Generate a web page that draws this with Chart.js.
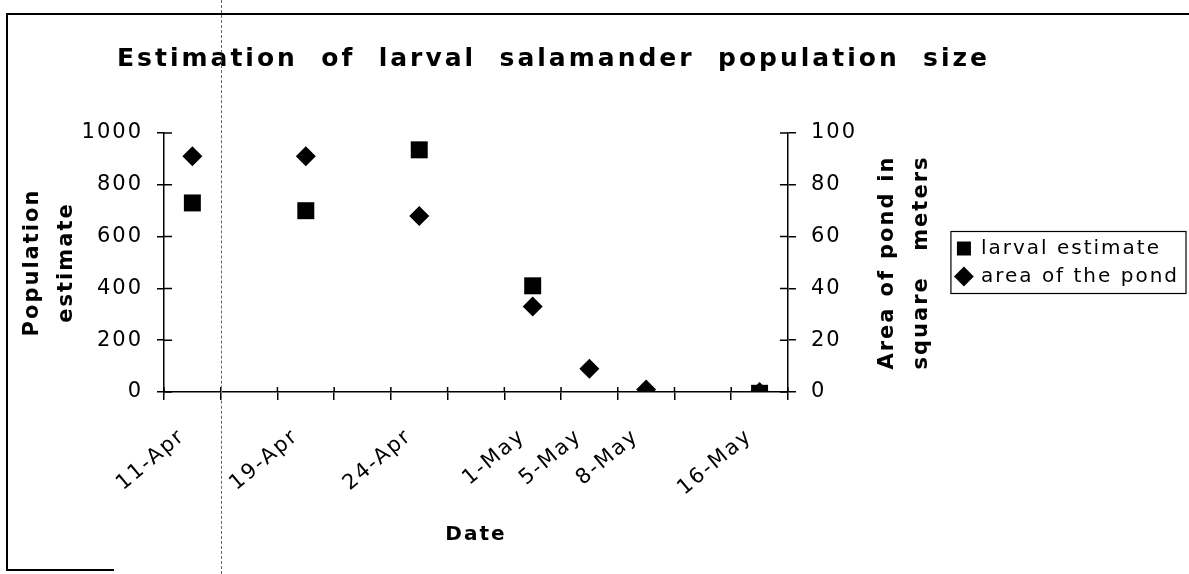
<!DOCTYPE html>
<html>
<head>
<meta charset="utf-8">
<script src="https://cdn.jsdelivr.net/npm/chart.js@4.4.1/dist/chart.umd.min.js"></script>
<style>
  body { margin: 0; background: #fff; }
  #wrap { position: relative; width: 1189px; height: 574px; overflow: hidden; }
  #frame { position: absolute; left: 6px; top: 13px; width: 1190px; height: 556px; border-top: 2px solid #000; border-left: 2px solid #000; pointer-events: none; }
  #foot { position: absolute; left: 6px; top: 569px; width: 108px; border-top: 2px solid #000; }
  #scan { position: absolute; left: 221px; top: 0; height: 574px; border-left: 1px dashed #666; pointer-events: none; }
</style>
</head>
<body>
<div id="wrap">
  <canvas id="salamander" width="1189" height="574"></canvas>
  <div id="frame"></div>
  <div id="foot"></div>
  <div id="scan"></div>
</div>
<script>
// データ
const dateLabels = ['11-Apr', '', '19-Apr', '', '24-Apr', '', '1-May', '5-May', '8-May', '', '16-May'];
const larvalEstimate = [730, null, 700, null, 935, null, 410, null, null, null, -5];
const pondArea = [91, null, 91, null, 68, null, 33, 9, 1, null, 0];
const popTicks = [0, 200, 400, 600, 800, 1000];
const areaTicks = [0, 20, 40, 60, 80, 100];

const chartTitle = 'Estimation of larval salamander population size';
const leftTitle = ['Population', 'estimate'];
const rightTitle = ['Area of pond in', 'square meters'];
const xTitle = 'Date';

const SPACING = '2px'; // スキャン画像の文字間隔に合わせる

// 単語を両端揃えで描く
function spread(ctx, text, x0, x1, y) {
    const words = text.split(' ');
    const widths = words.map(w => ctx.measureText(w).width);
    const total = widths.reduce((a, b) => a + b, 0);
    const gap = words.length > 1 ? (x1 - x0 - total) / (words.length - 1) : 0;
    let cx = x0;
    ctx.textAlign = 'left';
    words.forEach((w, i) => {
        ctx.fillText(w, cx, y);
        cx += widths[i] + gap;
    });
}

const extras = {
    id: 'extras',
    beforeLayout(chart) { chart.ctx.letterSpacing = SPACING; },
    beforeDraw(chart) { chart.ctx.letterSpacing = SPACING; },
    afterDraw(chart) {
        const ctx = chart.ctx;
        const {x, y, y1} = chart.scales;
        ctx.save();
        ctx.strokeStyle = '#000';
        ctx.lineWidth = 1.5;

        // 目盛り線の内側部分
        ctx.beginPath();
        const n = x.ticks.length;
        for (let i = 0; i <= n; i++) {
            const px = x.left + i * x.width / n;
            ctx.moveTo(px, x.top - 5);
            ctx.lineTo(px, x.top);
        }
        y.ticks.forEach(t => {
            const py = y.getPixelForValue(t.value);
            ctx.moveTo(y.right, py);
            ctx.lineTo(y.right + 8, py);
        });
        y1.ticks.forEach(t => {
            const py = y1.getPixelForValue(t.value);
            ctx.moveTo(y1.left - 8, py);
            ctx.lineTo(y1.left, py);
        });
        ctx.stroke();

        // タイトル
        ctx.fillStyle = '#000';
        ctx.textBaseline = 'alphabetic';
        ctx.letterSpacing = '3px';
        ctx.font = 'bold 25px "DejaVu Sans"';
        spread(ctx, chartTitle, 117, 990, 66);

        // 右軸タイトル(下から上へ)
        ctx.letterSpacing = SPACING;
        ctx.font = 'bold 21px "DejaVu Sans"';
        const midY = (y1.top + y1.bottom) / 2;
        [893, 927].forEach((bx, i) => {
            ctx.save();
            ctx.translate(bx, midY);
            ctx.rotate(-Math.PI / 2);
            spread(ctx, rightTitle[i], -107, 107, 0);
            ctx.restore();
        });

        // 凡例の枠
        const lg = chart.legend;
        const boxes = lg.legendHitBoxes;
        const top = Math.min(...boxes.map(b => b.top)) - 7;
        const bottom = Math.max(...boxes.map(b => b.top + b.height)) + 7;
        const left = Math.min(...boxes.map(b => b.left)) - 6;
        ctx.lineWidth = 1.2;
        ctx.strokeRect(left, top, chart.width - 3 - left, bottom - top);
        ctx.restore();
    }
};

Chart.defaults.font.family = '"DejaVu Sans"';
Chart.defaults.color = '#000';

const ctx = document.getElementById('salamander');
const salamanderChart = new Chart(ctx, {
    type: 'line',
    data: {
        labels: dateLabels,
        datasets: [{
            label: 'larval estimate',
            data: larvalEstimate,
            yAxisID: 'y',
            showLine: false,
            pointStyle: 'rect',
            pointRadius: 12,
            pointBorderWidth: 0,
            backgroundColor: '#000',
            borderColor: '#000'
        }, {
            label: 'area of the pond',
            data: pondArea,
            yAxisID: 'y1',
            showLine: false,
            pointStyle: 'rectRot',
            pointRadius: 10,
            pointBorderWidth: 0,
            backgroundColor: '#000',
            borderColor: '#000'
        }]
    },
    options: {
        responsive: false,
        devicePixelRatio: 1,
        animation: false,
        layout: { padding: { top: 133, right: 0, bottom: 0, left: 0 } },
        plugins: {
            title: { display: false },
            tooltip: { enabled: false },
            legend: {
                position: 'right',
                fullSize: false,
                align: 'center',
                maxWidth: 300,
                labels: {
                    usePointStyle: true,
                    boxWidth: 14,
                    boxHeight: 14,
                    padding: 8,
                    color: '#000',
                    font: { size: 20 }
                }
            }
        },
        scales: {
            x: {
                type: 'category',
                offset: true,
                grid: { offset: true, drawOnChartArea: false, drawTicks: true, tickLength: 8, color: '#000', lineWidth: 1.5 },
                border: { display: true, color: '#000', width: 1.5 },
                ticks: { autoSkip: false, minRotation: 40, maxRotation: 40, padding: 24, labelOffset: -10, font: { size: 21 }, color: '#000' },
                title: { display: true, text: xTitle, font: { size: 20, weight: 'bold' }, padding: { top: 0, bottom: 27 } },
                afterFit(s) { s.height = 574 - 392; }
            },
            y: {
                position: 'left',
                min: popTicks[0],
                max: popTicks[popTicks.length - 1],
                grid: { drawOnChartArea: false, drawTicks: true, tickLength: 7, color: '#000', lineWidth: 1.5 },
                border: { display: true, color: '#000', width: 1.5 },
                ticks: { stepSize: popTicks[1] - popTicks[0], padding: 14, font: { size: 21 }, color: '#000', callback: v => String(v) },
                title: { display: true, text: leftTitle, font: { size: 21, weight: 'bold', lineHeight: 1.6 }, padding: { top: 16, bottom: 0 } },
                afterFit(s) { s.width = 164; }
            },
            y1: {
                position: 'right',
                min: areaTicks[0],
                max: areaTicks[areaTicks.length - 1],
                grid: { drawOnChartArea: false, drawTicks: true, tickLength: 8, color: '#000', lineWidth: 1.5 },
                border: { display: true, color: '#000', width: 1.5 },
                ticks: { stepSize: areaTicks[1] - areaTicks[0], padding: 15, font: { size: 21 }, color: '#000', callback: v => String(v) },
                afterFit(s) { s.width = 161; }
            }
        }
    },
    plugins: [extras]
});
</script>
</body>
</html>
